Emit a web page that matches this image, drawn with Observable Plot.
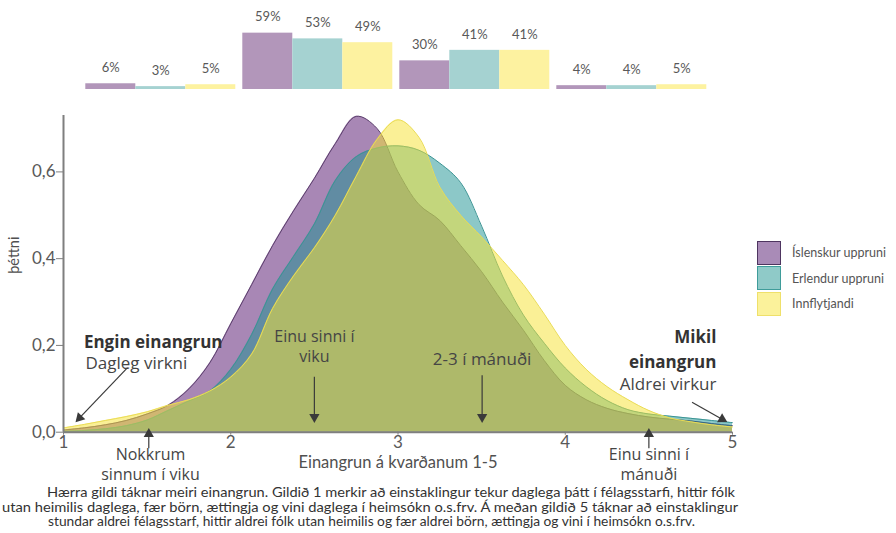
<!DOCTYPE html>
<html>
<head>
<meta charset="utf-8">
<script src="https://cdn.jsdelivr.net/npm/d3@7"></script>
<script src="https://cdn.jsdelivr.net/npm/@observablehq/plot@0.6"></script>
<style>
  body { margin: 0; background: #fff; }
  #wrap { position: relative; width: 896px; height: 533px; overflow: hidden; font-family: Lato, sans-serif; }
  #bars { position: absolute; left: 0; top: 0; }
  #dens { position: absolute; left: 0; top: 100px; }
  #legend { position: absolute; left: 757px; top: 240px; font-family: Lato, sans-serif; font-size: 12.5px; color: #555; white-space: nowrap; }
  .li { display: flex; align-items: center; height: 25.5px; }
  .sw { width: 24px; height: 24px; box-sizing: border-box; border: 1.5px solid; margin-right: 11px; }
  #caption { position: absolute; left: 0; top: 483px; }
  svg { overflow: visible; }
</style>
</head>
<body>
<div id="wrap">
  <div id="bars"></div>
  <div id="dens"></div>
  <div id="legend"></div>
  <div id="caption"></div>
</div>
<script>
// ---------- data ----------
const series = ["Íslenskur uppruni", "Erlendur uppruni", "Innflytjandi"];

// top bar chart (percent per group)
const groups = ["Hópur 1", "Hópur 2", "Hópur 3", "Hópur 4"];
const islenskurPct = [6, 59, 30, 4];
const erlendurPct = [3, 53, 41, 4];
const innflytjandiPct = [5, 49, 41, 5];

// density curves
const xs = [1, 1.125, 1.25, 1.375, 1.5, 1.625, 1.75, 1.875, 2, 2.125, 2.25, 2.375, 2.5, 2.625, 2.75, 2.875, 3,
            3.125, 3.25, 3.375, 3.5, 3.625, 3.75, 3.875, 4, 4.125, 4.25, 4.375, 4.5, 4.625, 4.75, 4.875, 5];
const islenskur = [0.005, 0.010, 0.017, 0.027, 0.042, 0.062, 0.100, 0.160, 0.250, 0.340, 0.430, 0.510, 0.585, 0.665, 0.728, 0.700, 0.600,
                   0.525, 0.488, 0.430, 0.370, 0.300, 0.235, 0.165, 0.108, 0.075, 0.055, 0.043, 0.035, 0.030, 0.026, 0.020, 0.015];
const erlendur = [0.002, 0.004, 0.008, 0.015, 0.028, 0.050, 0.072, 0.095, 0.145, 0.225, 0.330, 0.405, 0.480, 0.580, 0.635, 0.655, 0.660,
                  0.650, 0.620, 0.575, 0.475, 0.360, 0.270, 0.205, 0.148, 0.105, 0.073, 0.052, 0.042, 0.037, 0.032, 0.027, 0.022];
const innflytjandi = [0.010, 0.018, 0.027, 0.036, 0.047, 0.062, 0.075, 0.095, 0.127, 0.180, 0.285, 0.360, 0.425, 0.500, 0.590, 0.675, 0.720,
                      0.680, 0.565, 0.500, 0.450, 0.396, 0.340, 0.272, 0.200, 0.145, 0.105, 0.075, 0.050, 0.033, 0.024, 0.017, 0.012];

const xTicks = [1, 2, 3, 4, 5];
const yTicks = [0, 0.2, 0.4, 0.6];
const xLabel = "Einangrun á kvarðanum 1-5";
const yLabel = "þéttni";

// annotations (data units)
const notes = [
  {x: 1.122, y: 0.207, text: "Engin einangrun", bold: true, anchor: "start", lh: 1, fs: 17},
  {x: 1.131, y: 0.158, text: "Dagleg virkni", bold: false, anchor: "start", lh: 1, fs: 17},
  {x: 2.5, y: 0.199, text: "Einu sinni í\nviku", bold: false, anchor: "middle", lh: 1.25, fs: 16},
  {x: 3.503, y: 0.168, text: "2-3 í mánuði", bold: false, anchor: "middle", lh: 1, fs: 17},
  {x: 1.52, y: -0.073, text: "Nokkrum\nsinnum í viku", bold: false, anchor: "middle", lh: 1.25, fs: 16},
  {x: 4.5, y: -0.073, text: "Einu sinni í\nmánuði", bold: false, anchor: "middle", lh: 1.25, fs: 16},
  {x: 4.904, y: 0.196, text: "Mikil\neinangrun", bold: true, anchor: "end", lh: 1.51, fs: 17},
  {x: 4.904, y: 0.1096, text: "Aldrei virkur", bold: false, anchor: "end", lh: 1, fs: 17}
];
// arrows: shaft start (x1,y1) -> head centre (x2,y2), head rotation
const arrows = [
  {x1: 1.383, y1: 0.149, x2: 1.096, y2: 0.033, rot: -136.5},
  {x1: 2.5, y1: 0.128, x2: 2.5, y2: 0.035, rot: 180},
  {x1: 3.503, y1: 0.131, x2: 3.503, y2: 0.035, rot: 180},
  {x1: 1.51, y1: -0.037, x2: 1.51, y2: -0.004, rot: 0},
  {x1: 4.5, y1: -0.037, x2: 4.5, y2: -0.004, rot: 0},
  {x1: 4.758, y1: 0.069, x2: 4.938, y2: 0.030, rot: 119.7}
];

const captionLines = [
  "Hærra gildi táknar meiri einangrun. Gildið 1 merkir að einstaklingur tekur daglega þátt í félagsstarfi, hittir fólk",
  "utan heimilis daglega, fær börn, ættingja og vini daglega í heimsókn o.s.frv. Á meðan gildið 5 táknar að einstaklingur",
  "stundar aldrei félagsstarf, hittir aldrei fólk utan heimilis og fær aldrei börn, ættingja og vini í heimsókn o.s.frv."
];

// ---------- styles ----------
const barColors = ["#b296ba", "#a5d2d1", "#fdf2a0"];
const legendFill = ["#a98bb7", "#8fcac8", "#fbf29b"];
const legendBorder = ["#4e3560", "#3f9c9a", "#efe06a"];

// ---------- bar chart ----------
const barRows = [];
groups.forEach((g, i) => {
  barRows.push({g, s: series[0], v: islenskurPct[i]});
  barRows.push({g, s: series[1], v: erlendurPct[i]});
  barRows.push({g, s: series[2], v: innflytjandiPct[i]});
});

const bars = Plot.plot({
  width: 896, height: 100,
  marginLeft: 84.7, marginRight: 188.6, marginTop: 0, marginBottom: 11,
  fx: {domain: groups, paddingInner: 0.04, paddingOuter: 0, axis: null, label: null},
  x: {domain: series, padding: 0, axis: null},
  y: {domain: [0, 59], range: [89, 32.65], axis: null},
  color: {domain: series, range: barColors},
  style: {fontFamily: "Lato, sans-serif", background: "transparent", overflow: "visible"},
  marks: [
    Plot.barY(barRows, {fx: "g", x: "s", y: "v", fill: "s"}),
    Plot.text(barRows, {fx: "g", x: "s", y: "v", text: d => d.v + "%", dy: -16, fontSize: 13, fill: "#595959"})
  ]
});
document.getElementById("bars").appendChild(bars);

// ---------- density chart ----------
const rows = ys => xs.map((x, i) => ({x, y: ys[i]}));
const P = rows(islenskur), T = rows(erlendur), Y = rows(innflytjandi);
const curve = "catmull-rom";
const fmtY = d => d.toFixed(1).replace(".", ",");
const fmtX = d => String(d);

const noteMarks = notes.map(d => Plot.text([d], {
  x: "x", y: "y", text: "text", textAnchor: d.anchor, lineHeight: d.lh,
  fontFamily: "Open Sans", fontWeight: d.bold ? "bold" : "normal", fontSize: d.fs,
  fill: d.bold ? "#333" : "#454545"
}));

const dens = Plot.plot({
  width: 896, height: 390,
  marginTop: 15, marginBottom: 58.3, marginLeft: 63, marginRight: 164,
  x: {domain: [1, 5]},
  y: {domain: [0, 0.73]},
  style: {fontFamily: "Lato, sans-serif", background: "transparent", overflow: "visible"},
  marks: [
    Plot.areaY(P, {x: "x", y: "y", fill: "#a887b5", curve}),
    Plot.lineY(P, {x: "x", y: "y", stroke: "#5b3f6c", strokeWidth: 1, curve}),
    Plot.areaY(T, {x: "x", y: "y", fill: "rgb(26,146,146)", fillOpacity: 0.5, curve}),
    Plot.lineY(T, {x: "x", y: "y", stroke: "#3b9494", strokeWidth: 1, curve}),
    Plot.areaY(Y, {x: "x", y: "y", fill: "rgb(246,227,54)", fillOpacity: 0.52, curve}),
    Plot.lineY(Y, {x: "x", y: "y", stroke: "#eadc55", strokeWidth: 1, curve}),
    Plot.ruleY([0], {x1: 1, x2: 5, stroke: "#7f7f7f", strokeWidth: 2}),
    Plot.ruleX([1], {y1: 0, y2: 0.73, stroke: "#7f7f7f", strokeWidth: 2}),
    Plot.axisX({ticks: xTicks, tickFormat: fmtX, tickSize: 3, tickPadding: 1, fontSize: 17, fill: "#595959", stroke: "#7f7f7f", label: null}),
    Plot.axisY({ticks: yTicks, tickSize: 7, tickPadding: 1, tickFormat: fmtY, fontSize: 17, fill: "#595959", stroke: "#7f7f7f", label: null}),
    Plot.text([xLabel], {frameAnchor: "bottom", dy: 35.3, fontSize: 16.5, fill: "#505050"}),
    Plot.text([yLabel], {frameAnchor: "left", dx: -49, rotate: -90, fontSize: 14.5, fill: "#505050"}),
    Plot.link(arrows, {x1: "x1", y1: "y1", x2: "x2", y2: "y2", stroke: "#3a3a3a", strokeWidth: 1.2}),
    Plot.dot(arrows, {x: "x2", y: "y2", symbol: "triangle", r: 3.8, fill: "#3a3a3a", stroke: "none", rotate: "rot"}),
    ...noteMarks
  ]
});
document.getElementById("dens").appendChild(dens);

// ---------- legend ----------
const legend = d3.select("#legend");
series.forEach((s, i) => {
  const row = legend.append("div").attr("class", "li");
  row.append("div").attr("class", "sw")
    .style("background", legendFill[i]).style("border-color", legendBorder[i]);
  row.append("span").text(s);
});

// ---------- caption ----------
const capSvg = d3.select("#caption").append("svg").attr("width", 896).attr("height", 50);
const capX = [47, 2, 48];
const capW = [688, 736, 647];
const capY = [14, 29, 43];
captionLines.forEach((t, i) => {
  capSvg.append("text")
    .attr("x", capX[i]).attr("y", capY[i])
    .attr("textLength", capW[i]).attr("lengthAdjust", "spacingAndGlyphs")
    .attr("font-family", "Lato, sans-serif").attr("font-size", 12.5).attr("fill", "#333")
    .text(t);
});
</script>
</body>
</html>
